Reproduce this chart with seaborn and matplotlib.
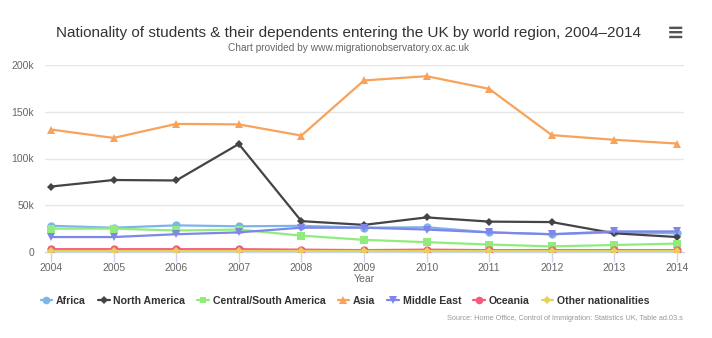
import matplotlib
matplotlib.use("Agg")
import matplotlib.pyplot as plt
import seaborn as sns
import pandas as pd
from matplotlib.lines import Line2D
from matplotlib.ticker import FuncFormatter

years = [2004, 2005, 2006, 2007, 2008, 2009, 2010, 2011, 2012, 2013, 2014]
africa = [28000, 26000, 28500, 27500, 28000, 26000, 26500, 21000, 19000, 21000, 20000]
north_america = [70000, 77000, 76500, 115500, 33000, 29000, 37000, 32500, 32000, 20000, 16000]
central_south_america = [25000, 25000, 23000, 24000, 17500, 13000, 10500, 8000, 6000, 7500, 9000]
asia = [131000, 122000, 137000, 136500, 124500, 183500, 188000, 174500, 125000, 120000, 116000]
middle_east = [16000, 16000, 19000, 21000, 26000, 26000, 24000, 21000, 19000, 22000, 22000]
oceania = [3000, 3000, 3000, 3000, 2500, 2000, 2500, 2000, 2000, 2000, 2000]
other = [1000, 1000, 1000, 1000, 1000, 1000, 1000, 1000, 1000, 1000, 1000]

series_names = ["Africa", "North America", "Central/South America", "Asia",
                "Middle East", "Oceania", "Other nationalities"]
series_values = [africa, north_america, central_south_america, asia,
                 middle_east, oceania, other]
colors = ["#7cb5ec", "#434348", "#90ed7d", "#f7a35c", "#8085e9", "#f15c80", "#e4d354"]
markers = ["o", "D", "s", "^", "v", "o", "D"]
msizes = [6, 4.5, 5.5, 6, 6, 6, 4.5]

rows = []
for name, vals in zip(series_names, series_values):
    for y, v in zip(years, vals):
        rows.append({"Year": y, "Value": v, "Region": name})
df = pd.DataFrame(rows)

sns.set_theme(style="white")
FONT = ["Liberation Sans", "DejaVu Sans"]
plt.rcParams["font.family"] = FONT

W, H = 712, 338
fig = plt.figure(figsize=(W / 100, H / 100), dpi=100)
left, right, top, bottom = 45, 684, 65, 252
ax = fig.add_axes([left / W, 1 - bottom / H, (right - left) / W, (bottom - top) / H])

for name, c, m, ms in zip(series_names, colors, markers, msizes):
    sub = df[df["Region"] == name]
    sns.lineplot(data=sub, x="Year", y="Value", ax=ax, color=c, marker=m,
                 markersize=ms, markeredgewidth=0, linewidth=1.6, legend=False,
                 zorder=3)

x0 = 2004 - 6 / 62.6
x1 = 2014 + 7 / 62.6
ax.set_xlim(x0, x1)
ax.set_ylim(0, 200000)
ax.set_yticks([0, 50000, 100000, 150000, 200000])
ax.yaxis.set_major_formatter(FuncFormatter(lambda v, p: "0" if v == 0 else f"{int(v/1000)}k"))
ax.set_xticks(years)
ax.grid(axis="y", color="#e6e6e6", linewidth=1)
ax.grid(axis="x", visible=False)
for s in ["top", "right", "left"]:
    ax.spines[s].set_visible(False)
ax.spines["bottom"].set_color("#ccd6eb")
ax.spines["bottom"].set_linewidth(1)
ax.tick_params(axis="y", length=0, labelsize=7.5, labelcolor="#666666", pad=8)
ax.tick_params(axis="x", length=7, width=1, color="#ccd6eb", labelsize=7.5,
               labelcolor="#666666", pad=1, bottom=True)
ax.set_xlabel("Year", fontsize=7.5, color="#666666", labelpad=1)
ax.set_ylabel("")

fig.text(349 / W, 1 - 33 / H, "Nationality of students & their dependents entering the UK by world region, 2004–2014",
         ha="center", va="center", fontsize=11, color="#333333")
fig.text(349 / W, 1 - 48 / H, "Chart provided by www.migrationobservatory.ox.ac.uk",
         ha="center", va="center", fontsize=7.3, color="#666666")
fig.text(676 / W, 1 - 33 / H, "≡", ha="center", va="center", fontsize=15,
         color="#555555", family="DejaVu Sans", weight="bold")

handles = [Line2D([0], [0], color=c, marker=m, markersize=ms - 0.5, markeredgewidth=0,
                  linewidth=1.6) for c, m, ms in zip(colors, markers, msizes)]
leg = fig.legend(handles, series_names, loc="center", bbox_to_anchor=(345 / W, 1 - 301 / H),
                 ncol=7, frameon=False, handlelength=1.1, handletextpad=0.35,
                 columnspacing=1.15, prop={"size": 7.6, "weight": "bold"})
for t in leg.get_texts():
    t.set_color("#333333")

fig.text(683 / W, 1 - 318 / H, "Source: Home Office, Control of Immigration: Statistics UK, Table ad.03.s",
         ha="right", va="center", fontsize=5.3, color="#999999")

fig.savefig("out.png", dpi=100, facecolor="white")
